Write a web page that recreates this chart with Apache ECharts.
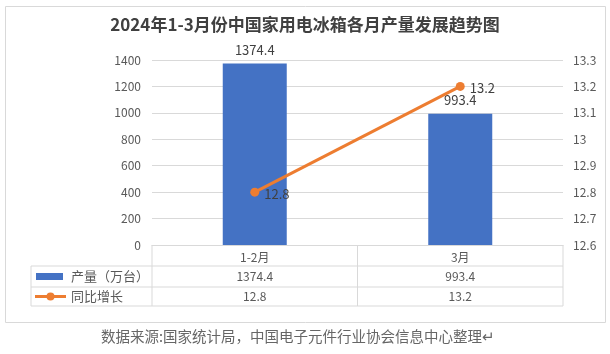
<!DOCTYPE html>
<html lang="zh">
<head>
<meta charset="UTF-8">
<title>冰箱产量</title>
<script src="https://cdn.jsdelivr.net/npm/echarts@6/dist/echarts.min.js"></script>
<style>
  html, body { margin: 0; padding: 0; background: #fff; }
  #main { width: 610px; height: 354px; }
</style>
</head>
<body>
<div id="main"></div>
<script>
// 数据
var categories = ['1-2月', '3月']
var output = [1374.4, 993.4]      // 产量（万台）
var growth = [12.8, 13.2]         // 同比增长
var seriesNames = ['产量（万台）', '同比增长']
var titleText = '2024年1-3月份中国家用电冰箱各月产量发展趋势图'
var sourceText = '数据来源:国家统计局，中国电子元件行业协会信息中心整理↵'

var font = '"Noto Sans CJK SC", "Noto Sans", sans-serif'
var blue = '#4472C4'
var orange = '#ED7D31'
var lineColor = '#d9d9d9'
var textColor = '#595959'

var chart = echarts.init(document.getElementById('main'))

chart.setOption({
    animation: false,
    textStyle: { fontFamily: font },
    title: {
        text: titleText,
        left: 'center',
        top: 11,
        textStyle: { fontSize: 17, fontWeight: 'bold', color: '#404040', fontFamily: font }
    },
    grid: { left: 152, right: 47, top: 60, bottom: 109 },
    xAxis: {
        type: 'category',
        data: categories,
        axisLine: { lineStyle: { color: lineColor } },
        axisTick: { show: false },
        axisLabel: { margin: 6, fontSize: 12, color: textColor }
    },
    yAxis: [{
        type: 'value',
        min: 0, max: 1400, interval: 200,
        axisLine: { show: false },
        axisTick: { show: false },
        axisLabel: {
            margin: 11, fontSize: 12, color: textColor,
            formatter: function (v) { return String(v) }
        },
        splitLine: { lineStyle: { color: lineColor } }
    }, {
        type: 'value',
        min: 12.6, max: 13.3, interval: 0.1,
        axisLine: { show: false },
        axisTick: { show: false },
        axisLabel: {
            margin: 10, fontSize: 12, color: textColor,
            formatter: function (v) { return +v.toFixed(1) }
        },
        splitLine: { show: false }
    }],
    series: [{
        name: seriesNames[0],
        type: 'bar',
        data: output,
        barWidth: 64,
        itemStyle: { color: blue },
        label: { show: true, position: 'top', distance: 7, fontSize: 13, color: '#404040' }
    }, {
        name: seriesNames[1],
        type: 'line',
        yAxisIndex: 1,
        data: growth,
        symbol: 'circle',
        symbolSize: 9,
        lineStyle: { color: orange, width: 3 },
        itemStyle: { color: orange },
        label: { show: true, position: 'right', distance: 5, fontSize: 13, color: '#404040', offset: [0, 2] }
    }]
})

// 数据表 (画在 x 轴下面)
var xs = categories.map(function (c) { return chart.convertToPixel({ xAxisIndex: 0 }, c) })
var y0 = chart.convertToPixel({ yAxisIndex: 0 }, 0)
var plotL = 152, plotR = 610 - 47
var half = (plotR - plotL) / categories.length / 2
var rowH = [21, 21, 19]
var rowY = [y0, y0 + rowH[0], y0 + rowH[0] + rowH[1], y0 + rowH[0] + rowH[1] + rowH[2]]
var tableL = 31

var g = []
function hline(x1, x2, y) {
    g.push({ type: 'line', shape: { x1: x1, y1: y, x2: x2, y2: y }, style: { stroke: lineColor, lineWidth: 1 }, silent: true })
}
function vline(x, y1, y2) {
    g.push({ type: 'line', shape: { x1: x, y1: y1, x2: x, y2: y2 }, style: { stroke: lineColor, lineWidth: 1 }, silent: true })
}
hline(tableL, plotR, rowY[1])
hline(tableL, plotR, rowY[2])
hline(tableL, plotR, rowY[3])
vline(tableL, rowY[1], rowY[3])
vline(plotL, rowY[0], rowY[3])
vline(plotR, rowY[0], rowY[3])
for (var i = 0; i < xs.length - 1; i++) vline(xs[i] + half, rowY[0], rowY[3])

// 数值行
var rows = [output, growth]
rows.forEach(function (vals, r) {
    var cy = (rowY[r + 1] + rowY[r + 2]) / 2
    vals.forEach(function (v, i) {
        g.push({
            type: 'text', x: xs[i], y: cy,
            style: { text: String(v), fontSize: 12, fill: textColor, fontFamily: font, align: 'center', verticalAlign: 'middle' }
        })
    })
    g.push({
        type: 'text', x: 71, y: cy,
        style: { text: seriesNames[r], fontSize: 13, fill: textColor, fontFamily: font, align: 'left', verticalAlign: 'middle' }
    })
})
// 图例符号
var cy1 = (rowY[1] + rowY[2]) / 2, cy2 = (rowY[2] + rowY[3]) / 2
g.push({ type: 'rect', shape: { x: 36, y: cy1 - 3.5, width: 27, height: 7 }, style: { fill: blue } })
g.push({ type: 'line', shape: { x1: 35, y1: cy2, x2: 66, y2: cy2 }, style: { stroke: orange, lineWidth: 3 } })
g.push({ type: 'circle', shape: { cx: 50.5, cy: cy2, r: 4 }, style: { fill: orange } })

// 外框
g.push({ type: 'rect', shape: { x: 5.5, y: 6.5, width: 600, height: 316 }, style: { fill: 'none', stroke: lineColor, lineWidth: 1 }, silent: true, z: -1 })

// 来源
g.push({
    type: 'text', x: 298, y: 336,
    style: { text: sourceText, fontSize: 14.5, fill: '#666', fontFamily: font, align: 'center', verticalAlign: 'middle' }
})

chart.setOption({ graphic: g })
</script>
</body>
</html>
